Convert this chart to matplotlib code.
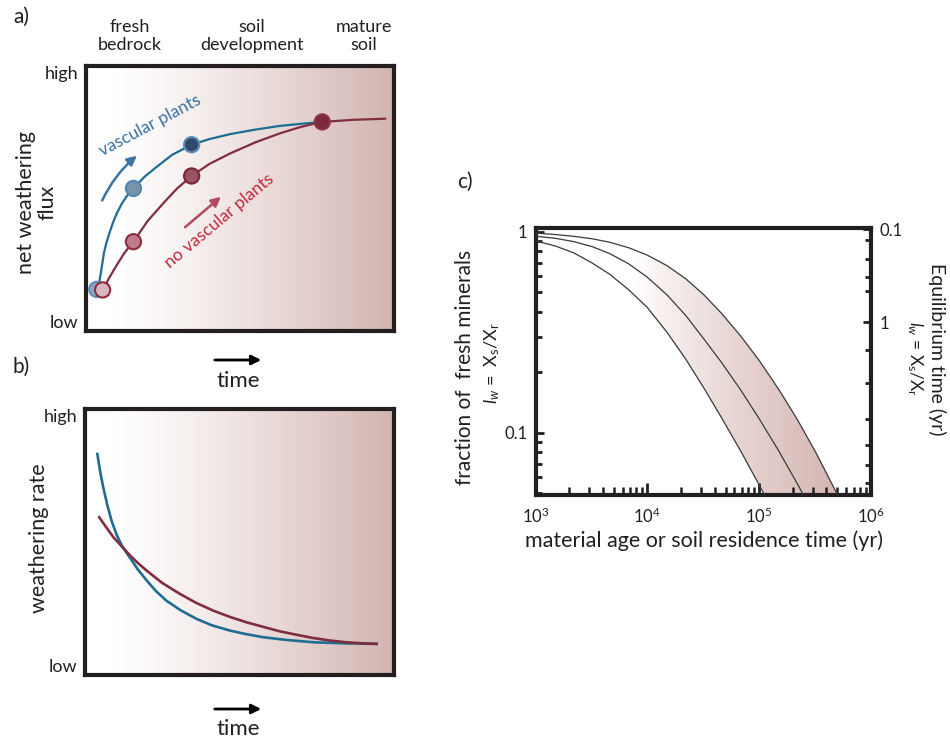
import numpy as np
import matplotlib
matplotlib.use('Agg')
import matplotlib.pyplot as plt
from matplotlib.colors import LinearSegmentedColormap
from matplotlib.ticker import FixedLocator, NullFormatter

plt.rcParams['font.family'] = ['Lato', 'DejaVu Sans']
plt.rcParams['mathtext.fontset'] = 'custom'
plt.rcParams['mathtext.rm'] = 'Lato'
plt.rcParams['mathtext.it'] = 'Lato:italic'

# ---- panel a: net weathering flux (schematic, axes units 0-1)
a_blue_t = [0.040, 0.044, 0.048, 0.053, 0.058, 0.066, 0.076, 0.087, 0.100, 0.115, 0.133, 0.154,
            0.190, 0.230, 0.280, 0.343, 0.400, 0.468, 0.550, 0.630, 0.700, 0.767]
a_blue_f = [0.161, 0.190, 0.218, 0.255, 0.293, 0.332, 0.369, 0.407, 0.444, 0.478, 0.510, 0.538,
            0.582, 0.620, 0.665, 0.703, 0.724, 0.743, 0.760, 0.774, 0.782, 0.789]
a_red_t = [0.054, 0.075, 0.100, 0.125, 0.154, 0.200, 0.251, 0.295, 0.343, 0.400, 0.468,
           0.550, 0.630, 0.700, 0.767, 0.868, 0.971]
a_red_f = [0.155, 0.200, 0.249, 0.295, 0.337, 0.415, 0.482, 0.537, 0.585, 0.630, 0.670,
           0.712, 0.746, 0.771, 0.789, 0.797, 0.801]
a_blue_pts_t = [0.035, 0.154, 0.343]
a_blue_pts_f = [0.157, 0.538, 0.703]
a_red_pts_t = [0.054, 0.154, 0.343, 0.767]
a_red_pts_f = [0.155, 0.337, 0.585, 0.789]
stage_labels = ['fresh\nbedrock', 'soil\ndevelopment', 'mature\nsoil']

# ---- panel b: weathering rate (schematic)
b_blue_t = [0.040, 0.049, 0.059, 0.072, 0.086, 0.102, 0.119, 0.146, 0.172, 0.200, 0.230, 0.264,
            0.310, 0.361, 0.410, 0.469, 0.520, 0.577, 0.650, 0.739, 0.840, 0.944]
b_blue_r = [0.831, 0.765, 0.706, 0.640, 0.580, 0.528, 0.487, 0.440, 0.395, 0.355, 0.315, 0.279,
            0.243, 0.211, 0.187, 0.167, 0.154, 0.142, 0.132, 0.123, 0.119, 0.117]
b_red_t = [0.046, 0.070, 0.092, 0.120, 0.146, 0.172, 0.200, 0.250, 0.307, 0.360, 0.415, 0.470,
           0.523, 0.580, 0.631, 0.690, 0.739, 0.790, 0.847, 0.900, 0.944]
b_red_r = [0.593, 0.553, 0.518, 0.482, 0.449, 0.420, 0.392, 0.346, 0.305, 0.271, 0.242, 0.218,
           0.198, 0.180, 0.164, 0.150, 0.139, 0.130, 0.123, 0.119, 0.117]

# ---- panel c: fraction of fresh minerals vs age (yr)
age = [1e3, 1.5e3, 2.2e3, 3.2e3, 4.6e3, 6.8e3, 1e4, 1.5e4, 2.2e4, 3.2e4, 4.6e4, 6.8e4,
       1e5, 1.5e5, 2.2e5, 3.2e5, 4.6e5, 6.8e5]
frac_low = [0.90, 0.85, 0.785, 0.70, 0.615, 0.515, 0.42, 0.316, 0.233, 0.167, 0.119, 0.0815,
            0.055, 0.036, 0.0237, 0.0158, 0.0107, 0.0069]
frac_mid = [0.95, 0.928, 0.893, 0.844, 0.779, 0.693, 0.594, 0.485, 0.384, 0.293, 0.224, 0.164,
            0.1175, 0.081, 0.0556, 0.0379, 0.0259, 0.017]
frac_high = [0.985, 0.969, 0.949, 0.923, 0.887, 0.833, 0.765, 0.678, 0.584, 0.486, 0.393, 0.304,
             0.229, 0.164, 0.116, 0.080, 0.054, 0.035]
right_minor = [0.13, 0.21, 0.33, 0.46, 2, 4.5, 11, 21, 34, 53]

BLUE = '#1f6d93'
RED = '#7f2d3f'
DARK = '#231f20'
PINK = '#d2b4b0'

W, H = 950, 740
fig = plt.figure(figsize=(9.5, 7.4), dpi=100)


def box(x0, y0, x1, y1):
    return [x0 / W, 1 - y1 / H, (x1 - x0) / W, (y1 - y0) / H]


def fpos(px, py):
    return px / W, 1 - py / H


bg_cmap = LinearSegmentedColormap.from_list('soil', ['#ffffff', PINK])
ramp = np.clip((np.linspace(0, 1, 256) - 0.08) / 0.92, 0, 1) ** 1.25


def schematic_axes(rect):
    ax = fig.add_axes(rect)
    ax.imshow(ramp[None, :], extent=[0, 1, 0, 1], aspect='auto', cmap=bg_cmap,
              vmin=0, vmax=1, zorder=0)
    ax.set_xlim(0, 1)
    ax.set_ylim(0, 1)
    ax.set_xticks([])
    ax.set_yticks([])
    for s in ax.spines.values():
        s.set_linewidth(3)
        s.set_color(DARK)
    ax.text(-0.025, 0.97, 'high', transform=ax.transAxes, ha='right', va='center', fontsize=13, color=DARK)
    ax.text(-0.025, 0.03, 'low', transform=ax.transAxes, ha='right', va='center', fontsize=13, color=DARK)
    return ax


# ================= panel a
axa = schematic_axes(box(86, 66, 394, 331))
axa.plot(a_blue_t, a_blue_f, color=BLUE, lw=1.6, zorder=2)
axa.plot(a_red_t, a_red_f, color=RED, lw=1.6, zorder=3)
axa.scatter(a_blue_pts_t, a_blue_pts_f, s=120, c=['#8fa8c0', '#7894a8', '#2d4a6a'],
            edgecolors=['#5f8fb5', '#4f88b2', '#5b8bb5'], linewidths=1.5, zorder=4)
axa.scatter(a_red_pts_t, a_red_pts_f, s=120, c=['#d9b5bd', '#c07a8a', '#9a5264', '#7a2a3c'],
            edgecolors=['#8c2c3e', '#8c2c3e', '#7a2536', '#8c3545'], linewidths=1.5, zorder=5)
axa.annotate('', xy=((139 - 86) / 308, (331 - 154) / 265), xytext=((101 - 86) / 308, (331 - 203) / 265),
             arrowprops=dict(arrowstyle='-|>', color='#3a75a5', lw=1.8, mutation_scale=14,
                             connectionstyle='arc3,rad=-0.12'))
axa.annotate('', xy=((223 - 86) / 308, (331 - 195) / 265), xytext=((183 - 86) / 308, (331 - 229) / 265),
             arrowprops=dict(arrowstyle='-|>', color='#b04a5c', lw=1.8, mutation_scale=14))
axa.text((150 - 86) / 308, (331 - 125) / 265, 'vascular plants', rotation=28, color='#3a72a0',
         fontsize=12.5, ha='center', va='center', rotation_mode='anchor')
axa.text((219 - 86) / 308, (331 - 221) / 265, 'no vascular plants', rotation=40, color='#c4283c',
         fontsize=12.5, ha='center', va='center', rotation_mode='anchor')

for lab, px in zip(stage_labels, [130, 252, 364]):
    fig.text(*fpos(px, 36), lab, ha='center', va='center', fontsize=13, color=DARK, linespacing=1.1)
fig.text(*fpos(37, 202), 'net weathering\nflux', rotation=90, ha='center', va='center',
         fontsize=15.5, color=DARK, linespacing=1.1)
fig.text(*fpos(21, 17), 'a)', ha='center', va='center', fontsize=15, color=DARK)

# ================= panel b
axb = schematic_axes(box(85, 409, 394, 675))
axb.plot(b_blue_t, b_blue_r, color=BLUE, lw=1.9, zorder=2)
axb.plot(b_red_t, b_red_r, color=RED, lw=1.9, zorder=3)
fig.text(*fpos(39, 538), 'weathering rate', rotation=90, ha='center', va='center', fontsize=15.5, color=DARK)
fig.text(*fpos(21, 367), 'b)', ha='center', va='center', fontsize=15, color=DARK)

for ya, yt in [(360, 381), (709, 729)]:
    fig.add_artist(matplotlib.patches.FancyArrowPatch(fpos(212, ya), fpos(264, ya), transform=fig.transFigure,
                                                      arrowstyle='-|>', mutation_scale=14, lw=2, color='black'))
    fig.text(*fpos(238, yt), 'time', ha='center', va='center', fontsize=16, color=DARK)

# ================= panel c
axc = fig.add_axes(box(535.5, 227.5, 871, 495))
axc.set_xscale('log')
axc.set_yscale('log')
axc.set_xlim(1e3, 1e6)
axc.set_ylim(0.049, 1.05)

band = axc.fill_between(age, frac_low, frac_high, color='none', lw=0)
band_cmap = LinearSegmentedColormap.from_list('band', ['#ffffff', '#d4b4b0'])
band_ramp = np.clip((np.linspace(0, 1, 256) - 0.3) / 0.62, 0, 1) ** 0.8
im = axc.imshow(band_ramp[None, :], extent=[0, 1, 0, 1], transform=axc.transAxes, aspect='auto',
                cmap=band_cmap, vmin=0, vmax=1, zorder=1)
im.set_clip_path(band.get_paths()[0], axc.transData)
for curve in (frac_low, frac_mid, frac_high):
    axc.plot(age, curve, color='#3a3a3a', lw=0.9, zorder=3)

for s in axc.spines.values():
    s.set_linewidth(3)
    s.set_color(DARK)
axc.set_xticks([1e3, 1e4, 1e5, 1e6])
axc.set_xticklabels(['$10^3$', '$10^4$', '$10^5$', '$10^6$'])
axc.set_yticks([0.1, 1])
axc.set_yticklabels(['0.1', '1'])
axc.yaxis.set_minor_formatter(NullFormatter())
axc.xaxis.set_minor_formatter(NullFormatter())
axc.tick_params(axis='x', which='major', direction='in', length=9, width=2, pad=8, labelsize=12, colors=DARK)
axc.tick_params(axis='x', which='minor', direction='in', length=5.5, width=1.8, colors=DARK)
axc.tick_params(axis='y', which='major', direction='in', length=6, width=2, pad=6, labelsize=12, colors=DARK)
axc.tick_params(axis='y', which='minor', direction='in', length=4.5, width=2, colors=DARK)

axr = axc.twinx()
axr.set_yscale('log')
axr.set_ylim(72, 0.0963)
axr.set_yticks([0.1, 1])
axr.set_yticklabels(['0.1', '1'])
axr.yaxis.set_minor_locator(FixedLocator(right_minor))
axr.yaxis.set_minor_formatter(NullFormatter())
axr.tick_params(axis='y', which='major', direction='in', length=6, width=2, pad=6, labelsize=12, colors=DARK)
axr.tick_params(axis='y', which='minor', direction='in', length=4.5, width=2, colors=DARK)
for s in axr.spines.values():
    s.set_visible(False)

fig.text(*fpos(704, 541), 'material age or soil residence time (yr)', ha='center', va='center',
         fontsize=15.5, color=DARK)
fig.text(*fpos(465, 367), 'fraction of  fresh minerals', rotation=90, ha='center', va='center',
         fontsize=15, color=DARK)
fig.text(*fpos(492, 363), r'$\mathit{l}_w$ =  X$_\mathrm{s}$/X$_\mathrm{r}$', rotation=90,
         ha='center', va='center', fontsize=13, color=DARK)
fig.text(*fpos(937, 349), 'Equilibrium time (yr)', rotation=270, ha='center', va='center',
         fontsize=14, color=DARK)
fig.text(*fpos(915, 358), r'$\mathit{l}_w$ = X$_\mathrm{s}$/X$_\mathrm{r}$', rotation=270,
         ha='center', va='center', fontsize=12.5, color=DARK)
fig.text(*fpos(465, 182), 'c)', ha='center', va='center', fontsize=15, color=DARK)

fig.savefig('out.png', dpi=100, facecolor='white')
